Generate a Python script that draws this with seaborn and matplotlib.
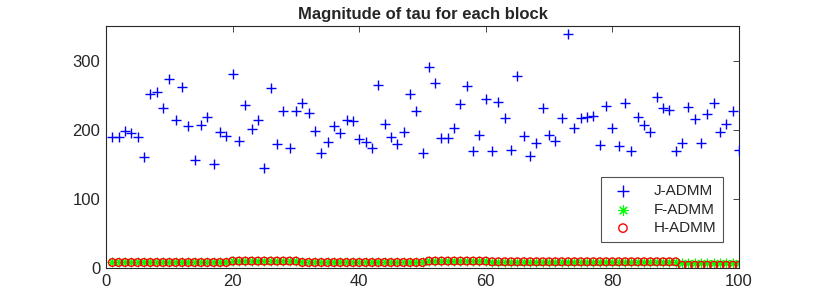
import numpy as np
import pandas as pd
import matplotlib
matplotlib.use("Agg")
import matplotlib.pyplot as plt
import seaborn as sns

# ===== data =====
blocks = list(range(1, 101))

j_admm = [
    189, 189, 198, 195, 189, 161, 251, 255, 232, 273,
    214, 262, 205, 156, 207, 218, 151, 197, 191, 281,
    184, 236, 201, 214, 144, 261, 180, 227, 173, 227,
    239, 224, 198, 167, 182, 205, 195, 214, 213, 187,
    182, 173, 265, 208, 189, 179, 197, 252, 227, 166,
    291, 268, 188, 188, 203, 237, 263, 169, 192, 245,
    169, 240, 217, 170, 277, 191, 162, 181, 231, 192,
    183, 217, 339, 203, 217, 219, 220, 178, 235, 203,
    176, 239, 169, 219, 207, 197, 247, 232, 228, 169,
    181, 233, 216, 181, 223, 238, 196, 208, 227, 170,
]

f_admm = [
    8, 8, 8, 8, 8, 8, 8, 8, 8, 8,
    8, 8, 8, 8, 8, 8, 8, 8, 8, 10,
    10, 10, 10, 10, 10, 10, 10, 10, 10, 10,
    8, 8, 8, 8, 8, 8, 8, 8, 8, 8,
    8, 8, 8, 8, 8, 8, 8, 8, 8, 8,
    10, 10, 10, 10, 10, 10, 10, 10, 10, 10,
    9, 9, 9, 9, 9, 9, 9, 9, 9, 9,
    9, 9, 9, 9, 9, 9, 9, 9, 9, 9,
    9, 9, 9, 9, 9, 9, 9, 9, 9, 9,
    7, 7, 7, 7, 7, 7, 7, 7, 7, 7,
]

h_admm = [
    8, 8, 8, 8, 8, 8, 8, 8, 8, 8,
    8, 8, 8, 8, 8, 8, 8, 8, 8, 10,
    10, 10, 10, 10, 10, 10, 10, 10, 10, 10,
    8, 8, 8, 8, 8, 8, 8, 8, 8, 8,
    8, 8, 8, 8, 8, 8, 8, 8, 8, 8,
    10, 10, 10, 10, 10, 10, 10, 10, 10, 10,
    9, 9, 9, 9, 9, 9, 9, 9, 9, 9,
    9, 9, 9, 9, 9, 9, 9, 9, 9, 9,
    9, 9, 9, 9, 9, 9, 9, 9, 9, 9,
    4, 4, 4, 4, 4, 4, 4, 4, 4, 4,
]

x_ticks = [0, 20, 40, 60, 80, 100]
y_ticks = [0, 100, 200, 300]

# ===== styling =====
sns.set_style("white")
plt.rcParams["font.family"] = ["Liberation Sans", "DejaVu Sans"]
plt.rcParams["xtick.direction"] = "in"
plt.rcParams["ytick.direction"] = "in"

fig = plt.figure(figsize=(8.17, 3.03), dpi=100)
ax = fig.add_axes([106 / 817, 1 - 268 / 303, (739 - 106) / 817, (268 - 26) / 303])

# matlab-like markers: '+', '*' (asterisk) and open 'o'
sns.scatterplot(x=blocks, y=j_admm, marker="+", s=60, color="#0000ff",
                linewidth=1.0, label="J-ADMM", ax=ax, zorder=3)
sns.scatterplot(x=blocks, y=f_admm, marker=(8, 2, 0), s=40, color="#00ff00",
                edgecolor="#00ff00", linewidth=0.8, label="F-ADMM", ax=ax, zorder=2)
sns.scatterplot(x=blocks, y=h_admm, marker="o", s=30, facecolor="none",
                edgecolor="#ff0000", linewidth=1.0, label="H-ADMM", ax=ax, zorder=4)

ax.set_xlim(0, 100)
ax.set_ylim(0, 350)
ax.set_xticks(x_ticks)
ax.set_yticks(y_ticks)
ax.tick_params(axis="both", labelsize=12, length=4, width=0.6, colors="#262626",
               top=True, right=True, pad=4)
for side in ["top", "right", "bottom", "left"]:
    ax.spines[side].set_visible(True)
    ax.spines[side].set_color("#262626")
    ax.spines[side].set_linewidth(0.8)

ax.set_title("Magnitude of tau for each block", fontsize=12, fontweight="bold", pad=5)

leg = ax.legend(loc="lower right", bbox_to_anchor=(723 / 817, 1 - 242 / 303),
                bbox_transform=fig.transFigure, fontsize=11, frameon=True,
                fancybox=False, edgecolor="#262626", borderpad=0.45,
                handletextpad=1.0, labelspacing=0.3, borderaxespad=0,
                markerscale=1.1)
leg.get_frame().set_linewidth(0.8)

fig.savefig("out.png", dpi=100)
